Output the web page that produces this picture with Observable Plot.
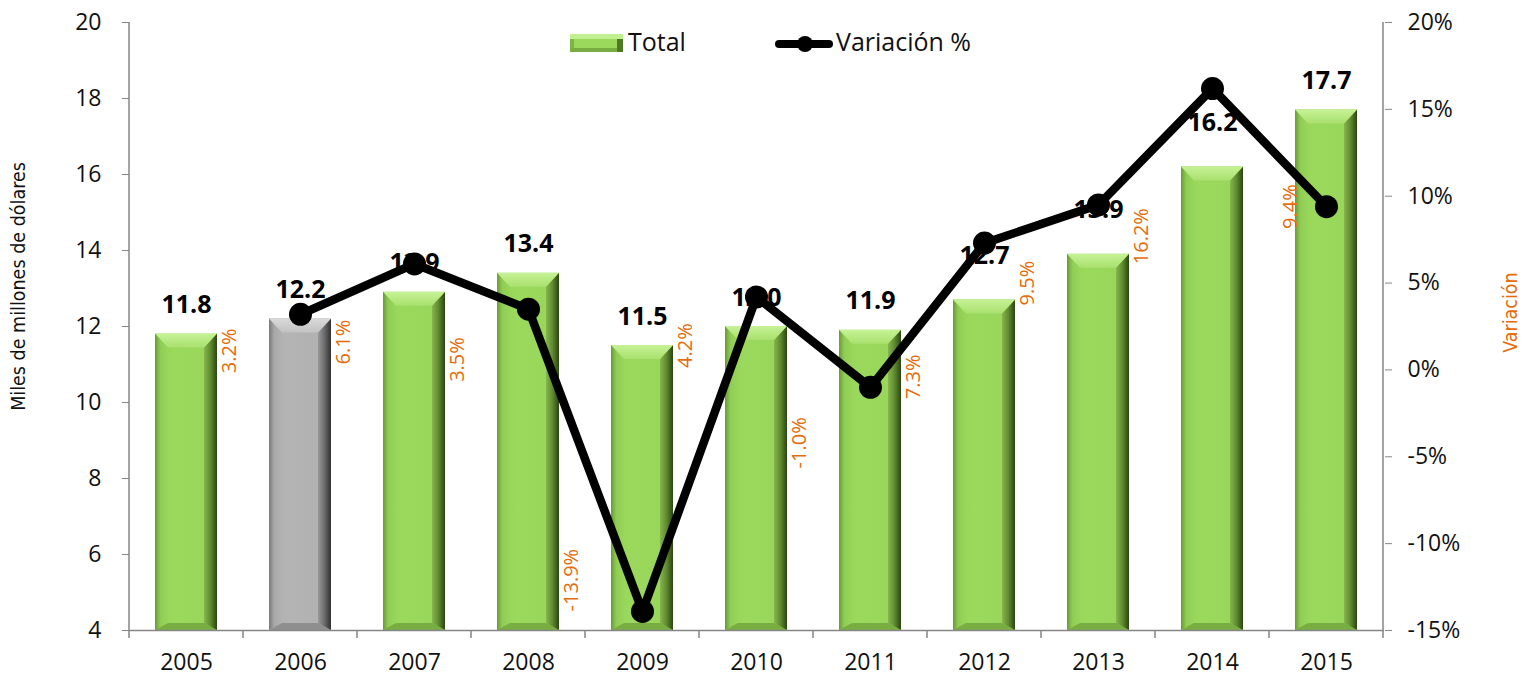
<!DOCTYPE html>
<html><head><meta charset="utf-8">
<script src="https://cdn.jsdelivr.net/npm/d3@7"></script>
<script src="https://cdn.jsdelivr.net/npm/@observablehq/plot@0.6"></script>
<style>
body{margin:0;background:#fff;font-family:"Open Sans",sans-serif}
#wrap{position:relative;width:1523px;height:676px;overflow:hidden}
.leg{position:absolute;font-family:"Open Sans",sans-serif;font-size:25px;color:#111;line-height:1}
.ytitle{position:absolute;font-family:"Liberation Sans Narrow","DejaVu Sans Condensed",sans-serif;font-size:19.5px;white-space:nowrap;transform-origin:center center}
</style></head><body><div id="wrap"></div>
<script>
// ---- data ----
const years = ["2005","2006","2007","2008","2009","2010","2011","2012","2013","2014","2015"];
const totals = [11.8, 12.2, 12.9, 13.4, 11.5, 12.0, 11.9, 12.7, 13.9, 16.2, 17.7];
const variation = [null, 3.2, 6.1, 3.5, -13.9, 4.2, -1.0, 7.3, 9.5, 16.2, 9.4];
// where each orange % label sits, in % units of the right axis
const varLabelAt = [null, 1.1, 1.6, 0.6, -12.1, 1.4, -4.2, -0.4, 5.0, 7.7, 9.4];
const leftTicks = [4, 6, 8, 10, 12, 14, 16, 18, 20];
const rightTicks = [-15, -10, -5, 0, 5, 10, 15, 20];
const highlightYear = "2006";
const raisedLabelYears = ["2012", "2013", "2014"];

const rows = years.map((y, i) => ({year: y, total: totals[i], v: variation[i], labelAt: varLabelAt[i], prev: i > 0 ? years[i - 1] : null}));
const vRows = rows.filter(d => d.v != null);

// map right-axis % onto left-axis units
const toLeft = d3.scaleLinear([-15, 20], [4, 20]);

const ORANGE = "#E46C0A";
const AXIS = "#868686";

const chart = Plot.plot({
  width: 1523, height: 676,
  marginLeft: 129, marginRight: 139, marginTop: 22, marginBottom: 46,
  style: {fontFamily: "Open Sans, sans-serif", fontSize: "23px", color: "#111", background: "#fff"},
  x: {type: "band", domain: years, paddingInner: 0.456, paddingOuter: 0.228, label: null},
  y: {domain: [4, 20], label: null},
  marks: [
    Plot.barY(rows.filter(d => d.year !== highlightYear), {x: "year", y1: 4, y2: "total", fill: "url(#gGreen)"}),
    Plot.barY(rows.filter(d => d.year === highlightYear), {x: "year", y1: 4, y2: "total", fill: "url(#gGray)"}),
    Plot.ruleY([4], {stroke: AXIS, strokeWidth: 1.5}),
    Plot.axisY(leftTicks, {anchor: "left", tickSize: 7, tickPadding: 21, stroke: AXIS, fill: "#111", fontSize: 23, label: null}),
    Plot.axisY(rightTicks.map(t => toLeft(t)), {anchor: "right", tickSize: 7, tickPadding: 16, stroke: AXIS, fill: "#111", fontSize: 23, label: null,
      tickFormat: d => Math.round(toLeft.invert(d)) + "%"}),
    Plot.axisX({tickSize: 0, tickPadding: 23, fill: "#111", fontSize: 23, label: null}),
    Plot.text(rows.filter(d => !raisedLabelYears.includes(d.year)), {x: "year", y: "total", text: d => d.total.toFixed(1), dy: -29, fontSize: 25, fontWeight: "bold", fill: "#000"}),
    Plot.text(rows.filter(d => raisedLabelYears.includes(d.year)), {x: "year", y: "total", text: d => d.total.toFixed(1), dy: -44, fontSize: 25, fontWeight: "bold", fill: "#000"}),
    Plot.text(vRows.filter(d => d.year !== "2015"), {x: "prev", y: d => toLeft(d.labelAt), text: d => d.v.toFixed(1) + "%", rotate: -90, dx: 43, fontSize: 20, fill: ORANGE}),
    Plot.text(vRows.filter(d => d.year === "2015"), {x: "prev", y: d => toLeft(d.labelAt), text: d => d.v.toFixed(1) + "%", rotate: -90, dx: 78, fontSize: 20, fill: ORANGE}),
    Plot.line(vRows, {x: "year", y: d => toLeft(d.v), stroke: "#000", strokeWidth: 8.5, strokeLinejoin: "round"}),
    Plot.dot(vRows, {x: "year", y: d => toLeft(d.v), r: 11.5, fill: "#000", stroke: "none"})
  ]
});

const wrap = document.getElementById("wrap");
wrap.appendChild(chart);

// ---- gradients and bevel ----
const svg = d3.select(chart);
const defs = svg.insert("defs", ":first-child");
function grad(id, stops, vertical) {
  const g = defs.append("linearGradient").attr("id", id)
    .attr("x1", 0).attr("y1", 0).attr("x2", vertical ? 0 : 1).attr("y2", vertical ? 1 : 0);
  stops.forEach(([o, c]) => g.append("stop").attr("offset", o).attr("stop-color", c));
}
grad("gGreen", [[0, "#7db443"], [0.05, "#95d258"], [0.3, "#9bd95d"], [1, "#98d65b"]]);
grad("gGray", [[0, "#8e8e8e"], [0.05, "#b0b0b0"], [0.3, "#b4b4b4"], [1, "#b0b0b0"]]);
grad("gGreenTop", [[0, "#c6f296"], [1, "#a9e06e"]], true);
grad("gGrayTop", [[0, "#dadada"], [1, "#c2c2c2"]], true);
grad("gGreenRight", [[0, "#86b64c"], [0.5, "#5f8a30"], [1, "#2c4512"]]);
grad("gGrayRight", [[0, "#9a9a9a"], [0.5, "#6a6a6a"], [1, "#303030"]]);
grad("gGreenLeft", [[0, "#6a9a36"], [0.4, "#8fcc54"], [1, "#98d65b"]]);
grad("gGrayLeft", [[0, "#7a7a7a"], [0.4, "#a8a8a8"], [1, "#b2b2b2"]]);

svg.selectAll('g[aria-label="bar"]').each(function() {
  const g = d3.select(this);
  const gray = (g.attr("fill") || "").includes("gGray");
  const bev = d3.create("svg:g");
  g.selectAll("rect").each(function() {
    const r = d3.select(this);
    const x = +r.attr("x"), y = +r.attr("y"), w = +r.attr("width"), h = +r.attr("height");
    const b = 14, bs = 13, bb = 7;
    const pts = a => a.map(p => p.join(",")).join(" ");
    bev.append("polygon").attr("points", pts([[x, y], [x + bs, y + b], [x + bs, y + h - bb], [x, y + h]]))
      .attr("fill", gray ? "url(#gGrayLeft)" : "url(#gGreenLeft)");
    bev.append("polygon").attr("points", pts([[x, y + h], [x + bs, y + h - bb], [x + w - bs, y + h - bb], [x + w, y + h]]))
      .attr("fill", gray ? "#8f8f8f" : "#78ad42");
    bev.append("polygon").attr("points", pts([[x + w, y], [x + w, y + h], [x + w - bs, y + h - bb], [x + w - bs, y + b]]))
      .attr("fill", gray ? "url(#gGrayRight)" : "url(#gGreenRight)");
    bev.append("polygon").attr("points", pts([[x, y], [x + w, y], [x + w - bs, y + b], [x + bs, y + b]]))
      .attr("fill", gray ? "url(#gGrayTop)" : "url(#gGreenTop)");
  });
  this.parentNode.insertBefore(bev.node(), this.nextSibling);
});

// ---- axis lines and category ticks from the library's scales ----
const xs = chart.scale("x"), ys = chart.scale("y");
const y0 = ys.apply(4), yTop = ys.apply(20);
const gap = (xs.step - xs.bandwidth) / 2;
const bounds = years.map(y => xs.apply(y) - gap);
bounds.push(bounds[bounds.length - 1] + xs.step);
const axg = svg.append("g").attr("stroke", AXIS).attr("stroke-width", 1.5);
axg.append("line").attr("x1", bounds[0]).attr("x2", bounds[0]).attr("y1", yTop).attr("y2", y0);
axg.append("line").attr("x1", bounds[bounds.length - 1]).attr("x2", bounds[bounds.length - 1]).attr("y1", yTop).attr("y2", y0);
bounds.forEach(bx => axg.append("line").attr("x1", bx).attr("x2", bx).attr("y1", y0).attr("y2", y0 + 8));
// keep line & dots on top
svg.selectAll('g[aria-label="line"], g[aria-label="dot"]').raise();

// ---- axis titles ----
const lt = document.createElement("div");
lt.className = "ytitle"; lt.textContent = "Miles de millones de dólares"; lt.style.color = "#111";
wrap.appendChild(lt);
lt.style.left = (18 - lt.offsetWidth / 2) + "px"; lt.style.top = (286 - lt.offsetHeight / 2) + "px";
lt.style.transform = "rotate(-90deg)";
const rt = document.createElement("div");
rt.className = "ytitle"; rt.textContent = "Variación"; rt.style.color = ORANGE;
wrap.appendChild(rt);
rt.style.left = (1510 - rt.offsetWidth / 2) + "px"; rt.style.top = (312 - rt.offsetHeight / 2) + "px";
rt.style.transform = "rotate(-90deg)";

// ---- legend ----
const leg = document.createElement("div");
leg.innerHTML = `
<div style="position:absolute;left:570px;top:34px;width:53px;height:18px;background:#9bd95d;
  box-shadow: inset 0 5px 0 #c2ef90, inset -6px 0 0 #4f7a25, inset 0 -4px 0 #78ad42, inset 4px 0 0 #7db443;"></div>
<div class="leg" style="left:628px;top:29px;">Total</div>
<div style="position:absolute;left:775px;top:40px;width:58px;height:8px;border-radius:4px;background:#000"></div>
<div style="position:absolute;left:797px;top:36px;width:16px;height:16px;border-radius:50%;background:#000"></div>
<div class="leg" style="left:836px;top:29px;">Variación %</div>`;
wrap.appendChild(leg);
</script>
</body></html>
